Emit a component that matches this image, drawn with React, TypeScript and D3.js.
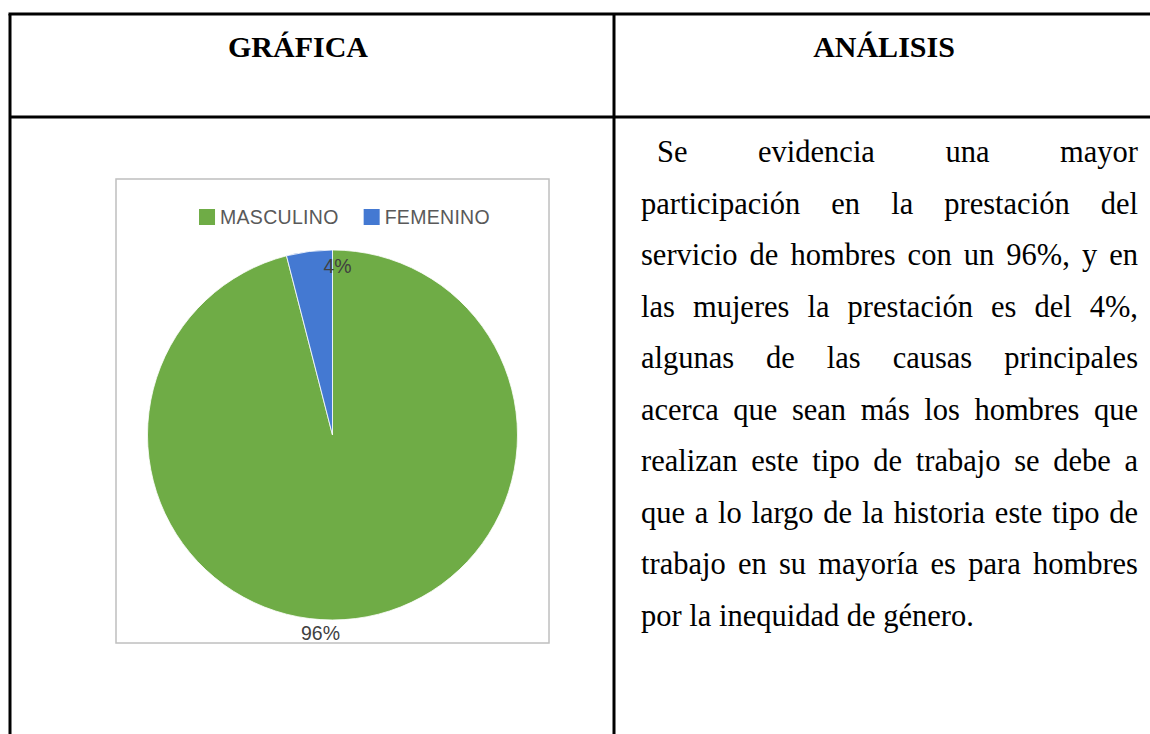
import * as d3 from 'd3';
import React from 'react';

const categories = ['MASCULINO', 'FEMENINO'];
const values = [96, 4];
const colors = ['#6FAC46', '#4479D2'];
const headers = ['GRÁFICA', 'ANÁLISIS'];
const analysisLines = [
  'Se evidencia una mayor',
  'participación en la prestación del',
  'servicio de hombres con un 96%, y en',
  'las mujeres la prestación es del 4%,',
  'algunas de las causas principales',
  'acerca que sean más los hombres que',
  'realizan este tipo de trabajo se debe a',
  'que a lo largo de la historia este tipo de',
  'trabajo en su mayoría es para hombres',
  'por la inequidad de género.',
];

const WIDTH = 1150;
const HEIGHT = 734;
const SERIF = "'Liberation Serif', 'Times New Roman', serif";
const SANS = "'Liberation Sans', Arial, sans-serif";

let ctx: CanvasRenderingContext2D | null = null;
const textWidth = (s: string, font: string) => {
  if (!ctx) ctx = document.createElement('canvas').getContext('2d');
  if (!ctx) return s.length * 14;
  ctx.font = font;
  return ctx.measureText(s).width;
};

const table = { left: 10, top: 14, split: 614, headerBottom: 117 };
const textBox = { left: 641, right: 1138, firstBaseline: 162, lineHeight: 51.5, indent: 16, fontSize: 30.5 };
const chartBox = { x: 116, y: 179, w: 433, h: 464 };

const App: React.FC = () => {
  const cx = chartBox.x + chartBox.w / 2;
  const cy = 435;
  const r = 185;

  const pie = d3.pie<number>().sort(null).value((d) => d);
  const arcs = pie(values);
  const arc = d3.arc<d3.PieArcDatum<number>>().innerRadius(0).outerRadius(r);

  const font = `${textBox.fontSize}px ${SERIF}`;
  const spaceW = textWidth(' ', font);

  // legend
  const legendFont = 19.5;
  const legendSpacing = 0.3;
  const legendY = 217;
  const legendItems = categories.map(
    (c) => textWidth(c, `${legendFont}px ${SANS}`) + legendSpacing * c.length,
  );
  const sw = 16;
  const legendGap = 25;
  const legendTotal = legendItems.reduce((a, w) => a + sw + 5 + w, 0) + legendGap;
  let lx = cx + 12 - legendTotal / 2;

  return (
    <svg
      width={WIDTH}
      height={HEIGHT}
      style={{ position: 'absolute', left: 0, top: 0, background: '#fff' }}
    >
      {/* table rules */}
      <g stroke="#000" strokeWidth={3}>
        <line x1={table.left - 1.5} y1={table.top} x2={WIDTH} y2={table.top} />
        <line x1={table.left} y1={table.top} x2={table.left} y2={HEIGHT} />
        <line x1={table.split} y1={table.top} x2={table.split} y2={HEIGHT} />
        <line x1={table.left} y1={table.headerBottom} x2={WIDTH} y2={table.headerBottom} />
      </g>
      <text x={298} y={57} textAnchor="middle" fontFamily={SERIF} fontWeight="bold" fontSize={30}>
        {headers[0]}
      </text>
      <text x={884} y={57} textAnchor="middle" fontFamily={SERIF} fontWeight="bold" fontSize={30}>
        {headers[1]}
      </text>

      {/* chart */}
      <rect x={chartBox.x} y={chartBox.y} width={chartBox.w} height={chartBox.h} fill="#fff" stroke="#BFBFBF" strokeWidth={1.5} />
      <g transform={`translate(${cx},${cy})`}>
        {arcs.map((a, i) => (
          <path key={categories[i]} d={arc(a) || ''} fill={colors[i]} stroke="#fff" strokeWidth={0.8} />
        ))}
        {arcs.map((a, i) => {
          const big = a.endAngle - a.startAngle > Math.PI;
          const ang = big ? Math.PI : a.endAngle;
          const rr = big ? r + 13 : r - 16;
          const x = Math.sin(ang) * rr + (big ? -12 : 5);
          const y = -Math.cos(ang) * rr;
          return (
            <text key={`lbl-${i}`} x={x} y={y} dy="0.35em" textAnchor="middle" fontFamily={SANS} fontSize={19.5} fill="#404040">
              {`${values[i]}%`}
            </text>
          );
        })}
      </g>
      {categories.map((c, i) => {
        const x0 = lx;
        lx += sw + 5 + legendItems[i] + legendGap;
        return (
          <g key={`leg-${c}`}>
            <rect x={x0} y={legendY - sw / 2} width={sw} height={sw} fill={colors[i]} />
            <text
              x={x0 + sw + 5}
              y={legendY}
              dy="0.35em"
              fontFamily={SANS}
              fontSize={legendFont}
              letterSpacing={legendSpacing}
              fill="#595959"
            >
              {c}
            </text>
          </g>
        );
      })}

      {/* analysis paragraph, justified */}
      {analysisLines.map((line, li) => {
        const words = line.split(' ');
        const start = textBox.left + (li === 0 ? textBox.indent : 0);
        const avail = textBox.right - start;
        const widths = words.map((w) => textWidth(w, font));
        const sum = d3.sum(widths);
        const last = li === analysisLines.length - 1;
        const gap = last || words.length < 2 ? spaceW : (avail - sum) / (words.length - 1);
        let x = start;
        const y = textBox.firstBaseline + li * textBox.lineHeight;
        return (
          <g key={`line-${li}`}>
            {words.map((w, wi) => {
              const xx = x;
              x += widths[wi] + gap;
              return (
                <text key={wi} x={xx} y={y} fontFamily={SERIF} fontSize={textBox.fontSize} fill="#000">
                  {w}
                </text>
              );
            })}
          </g>
        );
      })}
    </svg>
  );
};

export default App;
